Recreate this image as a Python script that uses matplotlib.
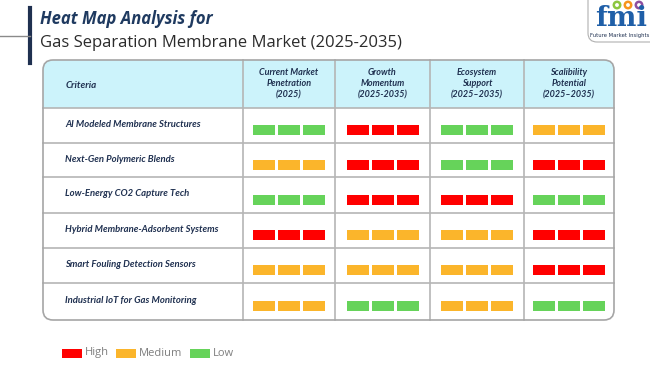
import matplotlib.pyplot as plt
from matplotlib.patches import FancyBboxPatch, Rectangle, Circle

criteria = [
    "AI Modeled Membrane Structures",
    "Next-Gen Polymeric Blends",
    "Low-Energy CO2 Capture Tech",
    "Hybrid Membrane-Adsorbent Systems",
    "Smart Fouling Detection Sensors",
    "Industrial IoT for Gas Monitoring",
]
columns = [
    "Current Market\nPenetration\n(2025)",
    "Growth\nMomentum\n(2025-2035)",
    "Ecosystem\nSupport\n(2025\u20132035)",
    "Scalibility\nPotential\n(2025\u20132035)",
]
levels = [
    ["Low", "High", "Low", "Medium"],
    ["Medium", "High", "Low", "High"],
    ["Low", "High", "High", "Low"],
    ["High", "Medium", "Medium", "High"],
    ["Medium", "Medium", "Medium", "High"],
    ["Medium", "Low", "Medium", "Low"],
]
legend_names = ["High", "Medium", "Low"]
colors = {"High": "#ff0000", "Medium": "#fbb52b", "Low": "#66d35a"}

fig = plt.figure(figsize=(6.5, 3.65), dpi=100)
ax = fig.add_axes([0, 0, 1, 1])
ax.set_xlim(0, 650)
ax.set_ylim(365, 0)
ax.axis("off")

# title block
ax.plot([30, 30], [8, 63], color="#1f3050", lw=3)
ax.plot([0, 30], [36, 36], color="#8a8a8a", lw=1)
ax.text(40, 19, "Heat Map Analysis for", fontsize=12, fontweight="bold", style="italic",
        color="#1f3a60", va="center", family="Open Sans")
ax.text(40, 43, "Gas Separation Membrane Market (2025-2035)", fontsize=12,
        color="#2b2b2b", va="center", family="Open Sans")

# logo
ax.add_patch(FancyBboxPatch((588, -12), 75, 54, boxstyle="round,pad=0,rounding_size=9",
                            fc="white", ec="#b0b0b0", lw=0.8))
ax.text(621, 18, "fmi", fontsize=20, fontweight="bold", color="#1f5fa8", ha="center",
        va="center", family="DejaVu Serif")
for cx, c in [(617, "#8cc63f"), (628, "#f7941d"), (639, "#8e4fa0")]:
    ax.add_patch(Circle((cx, 5), 3.2, fc="white", ec=c, lw=1.8))
ax.text(620, 35, "Future Market Insights", fontsize=3.8, color="#1f3050", ha="center", va="center")

# table geometry
x_edges = [43, 243, 335, 430, 524, 614]
y_edges = [60, 108, 143, 177, 213, 248, 283, 320]
tw = x_edges[-1] - x_edges[0]
th = y_edges[-1] - y_edges[0]

ax.add_patch(FancyBboxPatch((x_edges[0], y_edges[0]), tw, th,
                            boxstyle="round,pad=0,rounding_size=10",
                            fc="white", ec="none", zorder=1))
hdr = FancyBboxPatch((x_edges[0], y_edges[0]), tw, th,
                     boxstyle="round,pad=0,rounding_size=10",
                     fc="#ccf3fb", ec="none", zorder=1.5)
ax.add_patch(hdr)
clip = Rectangle((x_edges[0], y_edges[0]), tw, y_edges[1] - y_edges[0],
                 transform=ax.transData, fc="none", ec="none")
hdr.set_clip_path(clip)
ax.add_patch(FancyBboxPatch((x_edges[0], y_edges[0]), tw, th,
                            boxstyle="round,pad=0,rounding_size=10",
                            fc="none", ec="#a6a6a6", lw=1.2, zorder=2.5))
for y in y_edges[1:-1]:
    ax.plot([x_edges[0], x_edges[-1]], [y, y], color="#b5b5b5", lw=1.2, zorder=2)
for x in x_edges[1:-1]:
    ax.plot([x, x], [y_edges[0], y_edges[-1]], color="#b5b5b5", lw=1.2, zorder=2)

ax.text(66, 85, "Criteria", fontsize=7, style="italic", fontweight="bold", color="#1f3050",
        va="center", family="Lato", zorder=3)
for j, col in enumerate(columns):
    xc = (x_edges[j + 1] + x_edges[j + 2]) / 2
    ax.text(xc, 84, col, fontsize=6.5, style="italic", fontweight="bold", color="#1f3050",
            ha="center", va="center", linespacing=1.35, family="Lato", zorder=3)

bar_w, gap = 22, 3
for i, name in enumerate(criteria):
    yc = (y_edges[i + 1] + y_edges[i + 2]) / 2
    ax.text(65, yc - 1, name, fontsize=6.8, style="italic", fontweight="bold", color="#1f3050",
            va="center", family="Lato", zorder=3)
    for j, lv in enumerate(levels[i]):
        xc = (x_edges[j + 1] + x_edges[j + 2]) / 2
        lefts = [xc - 1.5 * bar_w - gap + k * (bar_w + gap) for k in range(3)]
        ax.barh([yc + 4.5] * 3, [bar_w] * 3, left=lefts, height=10, color=colors[lv], zorder=3)

# legend
lx = [62, 116, 190]
for x, name in zip(lx, legend_names):
    ax.barh(353, 20, left=x, height=9, color=colors[name])
    ax.text(x + 23, 353, name, fontsize=8, color="#7f7f7f", va="center", family="Open Sans")

fig.savefig("out.png", dpi=100)
